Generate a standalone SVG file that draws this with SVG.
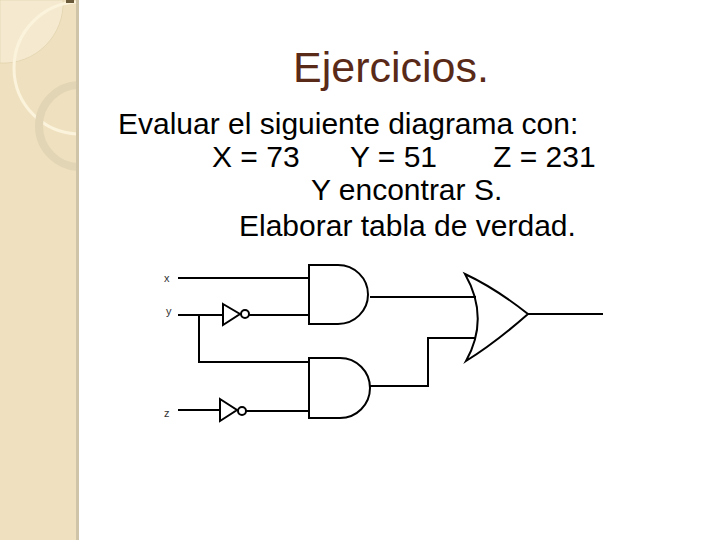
<svg xmlns="http://www.w3.org/2000/svg" width="720" height="540" viewBox="0 0 720 540">
<style>
.w{fill:none;stroke:#000;stroke-width:2}
.t{font-family:"Liberation Sans",Arial,sans-serif;fill:#000}
.l{font-family:"Liberation Sans",Arial,sans-serif;font-size:11px;fill:#333}
</style>
<defs><clipPath id="sb"><rect x="0" y="0" width="77" height="540"/></clipPath></defs>
<rect width="720" height="540" fill="#fff"/>
<g id="sidebar">
<rect x="0" y="0" width="78" height="540" fill="#efe1bf"/>
<g clip-path="url(#sb)">
<path d="M0,63 A60,60 0 0 0 63,0 L0,0Z" fill="#f5ead0" stroke="#d8c8a0" stroke-width="0.5"/>
<circle cx="80" cy="68" r="66" fill="none" stroke="#fbf3dc" stroke-width="3"/>
<circle cx="80" cy="126" r="41" fill="none" stroke="#e2d5b5" stroke-width="8"/>
</g>
<rect x="76" y="0" width="3" height="540" fill="#cfc3a8"/>
<rect x="66" y="0" width="8" height="3" fill="#6b5a3a"/>
</g>
<g id="title"><text x="391" y="82" text-anchor="middle" font-size="43" class="t" style="fill:#5a2a18">Ejercicios.</text></g>
<g id="body" font-size="30">
<text x="118" y="134" class="t">Evaluar el siguiente diagrama con:</text>
<text x="212" y="167" class="t">X = 73</text>
<text x="350" y="167" class="t">Y = 51</text>
<text x="493" y="167" class="t">Z = 231</text>
<text x="311" y="200" class="t">Y encontrar S.</text>
<text x="239" y="236" class="t">Elaborar tabla de verdad.</text>
</g>
<g id="labels">
<text x="164" y="282" class="l">x</text>
<text x="166" y="315" class="l">y</text>
<text x="164" y="417" class="l">z</text>
</g>
<g id="and1"><path class="w" d="M309,265 H338 A30,29.5 0 0 1 338,324 H309 Z"/></g>
<g id="and2"><path class="w" d="M309,358 H340 A30,30 0 0 1 340,418 H309 Z"/></g>
<g id="not1"><path class="w" d="M223,304 L240,314 L223,325 Z"/><circle class="w" cx="245" cy="314" r="4"/></g>
<g id="not2"><path class="w" d="M220,399 L237,410 L220,421 Z"/><circle class="w" cx="242" cy="411" r="4"/></g>
<g id="or1"><path class="w" d="M465,274 Q495,288 528,314 Q495,343 466,361 Q490,318 465,274 Z"/></g>
<g id="connectors">
<path class="w" d="M178,278 H309"/>
<path class="w" d="M178,315 H223"/>
<path class="w" d="M249,315 H309"/>
<path class="w" d="M199,315 V362 H309"/>
<path class="w" d="M178,410 H220"/>
<path class="w" d="M246,411 H309"/>
<path class="w" d="M370,297 H476"/>
<path class="w" d="M370,386 H428 V338 H476"/>
<path class="w" d="M528,314 H603"/>
</g>
</svg>
